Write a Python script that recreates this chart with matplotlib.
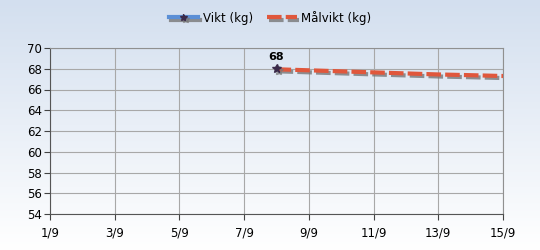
import numpy as np
import matplotlib
matplotlib.use("Agg")
import matplotlib.pyplot as plt
import matplotlib.patheffects as pe

# data
vikt_days = [8]
vikt_values = [68]
malvikt_days = [8, 9, 10, 11, 12, 13, 14, 15]
malvikt_values = [67.95, 67.85, 67.75, 67.65, 67.55, 67.45, 67.38, 67.3]
tick_days = [1, 3, 5, 7, 9, 11, 13, 15]
tick_labels = ["1/9", "3/9", "5/9", "7/9", "9/9", "11/9", "13/9", "15/9"]
y_ticks = list(range(54, 71, 2))

fig = plt.figure(figsize=(5.4, 2.5), dpi=100)

# gradient background over whole figure
bg = fig.add_axes([0, 0, 1, 1])
top = np.array([0xd3, 0xdf, 0xef]) / 255
bottom = np.array([1.0, 1.0, 1.0])
t = np.linspace(0, 1, 256)[:, None]
grad = top * (1 - t) + bottom * t
bg.imshow(grad[:, None, :], aspect="auto", extent=[0, 1, 0, 1])
bg.axis("off")

ax = fig.add_axes([50 / 540, 36 / 250, 453 / 540, 166 / 250])
ax.set_facecolor("none")

shadow = [pe.SimpleLineShadow(offset=(1.5, -1.5), shadow_color="#777777", alpha=0.8), pe.Normal()]

ax.plot(malvikt_days, malvikt_values, color="#e0573c", lw=3, ls=(0, (3.5, 1)),
        path_effects=shadow, label="Målvikt (kg)", zorder=3)
ax.plot(vikt_days, vikt_values, color="#5b8fd6", lw=3, marker="*", ms=6.5,
        mfc="#3a2a4a", mec="#3a2a4a", path_effects=shadow, label="Vikt (kg)", zorder=4)
for d, v in zip(vikt_days, vikt_values):
    ax.annotate(str(v), (d, v), xytext=(0, 5), textcoords="offset points",
                ha="center", va="bottom", fontsize=8, fontweight="bold")

ax.set_xlim(1, 15)
ax.set_ylim(54, 70)
ax.set_xticks(tick_days)
ax.set_xticklabels(tick_labels)
ax.set_yticks(y_ticks)
ax.tick_params(labelsize=8.5, length=4, color="#444444", pad=5)
ax.tick_params(axis="y", pad=2)
ax.grid(True, color="#a8a8a8", lw=0.8)
for s in ax.spines.values():
    s.set_color("#909090")
ax.spines["left"].set_color("#555555")
ax.spines["bottom"].set_color("#555555")

handles, labels = ax.get_legend_handles_labels()
fig.legend(handles[::-1], labels[::-1], loc="upper center", bbox_to_anchor=(0.5, 1.0),
           ncol=2, frameon=False, fontsize=8.5, handlelength=2.5, columnspacing=1.2,
           handletextpad=0.4, markerscale=0.8)

fig.savefig("out.png", dpi=100)
